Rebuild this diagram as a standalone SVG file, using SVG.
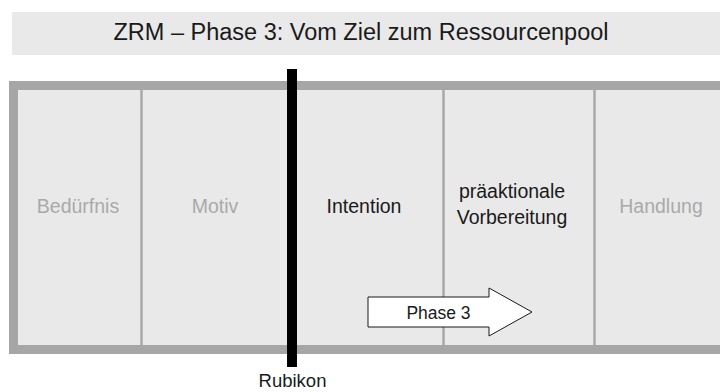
<svg xmlns="http://www.w3.org/2000/svg" width="720" height="392" viewBox="0 0 720 392">
  <style>
    .t{font-family:"Liberation Sans",Arial,sans-serif;text-anchor:middle}
    .lbl{font-size:19.5px}
    .dim{fill:#a9a9a9}
    .blk{fill:#1a1a1a}
    .div{stroke:#a8a8a8;stroke-width:2.5}
  </style>
  <rect width="720" height="392" fill="#ffffff"/>
  <g id="title">
    <rect x="12" y="12" width="708" height="43" fill="#e9e9e9"/>
    <text class="t blk" x="361" y="40" font-size="23.5">ZRM – Phase 3: Vom Ziel zum Ressourcenpool</text>
  </g>
  <g id="frame">
    <rect x="9" y="81" width="720" height="273" fill="#a6a6a6"/>
    <rect x="18" y="90" width="710" height="255" fill="#e9e9e9"/>
  </g>
  <g id="dividers">
    <line class="div" x1="141.5" y1="90" x2="141.5" y2="345"/>
    <line class="div" x1="443.5" y1="90" x2="443.5" y2="345"/>
    <line class="div" x1="594.5" y1="90" x2="594.5" y2="345"/>
  </g>
  <g id="beduerfnis"><text class="t lbl dim" x="78" y="212.5">Bedürfnis</text></g>
  <g id="motiv"><text class="t lbl dim" x="215" y="212.5">Motiv</text></g>
  <g id="intention"><text class="t lbl blk" x="364" y="212.5">Intention</text></g>
  <g id="vorbereitung">
    <text class="t lbl blk" x="512" y="197.5">präaktionale</text>
    <text class="t lbl blk" x="512" y="223.5">Vorbereitung</text>
  </g>
  <g id="handlung"><text class="t lbl dim" x="661" y="212.5">Handlung</text></g>
  <g id="rubikon">
    <rect x="287" y="69" width="10" height="298" fill="#000000"/>
    <text class="t blk" x="292.5" y="386.5" font-size="18.5">Rubikon</text>
  </g>
  <g id="connectors">
    <g id="phase3">
      <polygon points="368,297 489,297 489,288 532,312 489,336 489,327 368,327" fill="#ffffff" stroke="#1a1a1a" stroke-width="1"/>
      <text class="t blk" x="438.5" y="318.5" font-size="17.5">Phase 3</text>
    </g>
  </g>
</svg>
